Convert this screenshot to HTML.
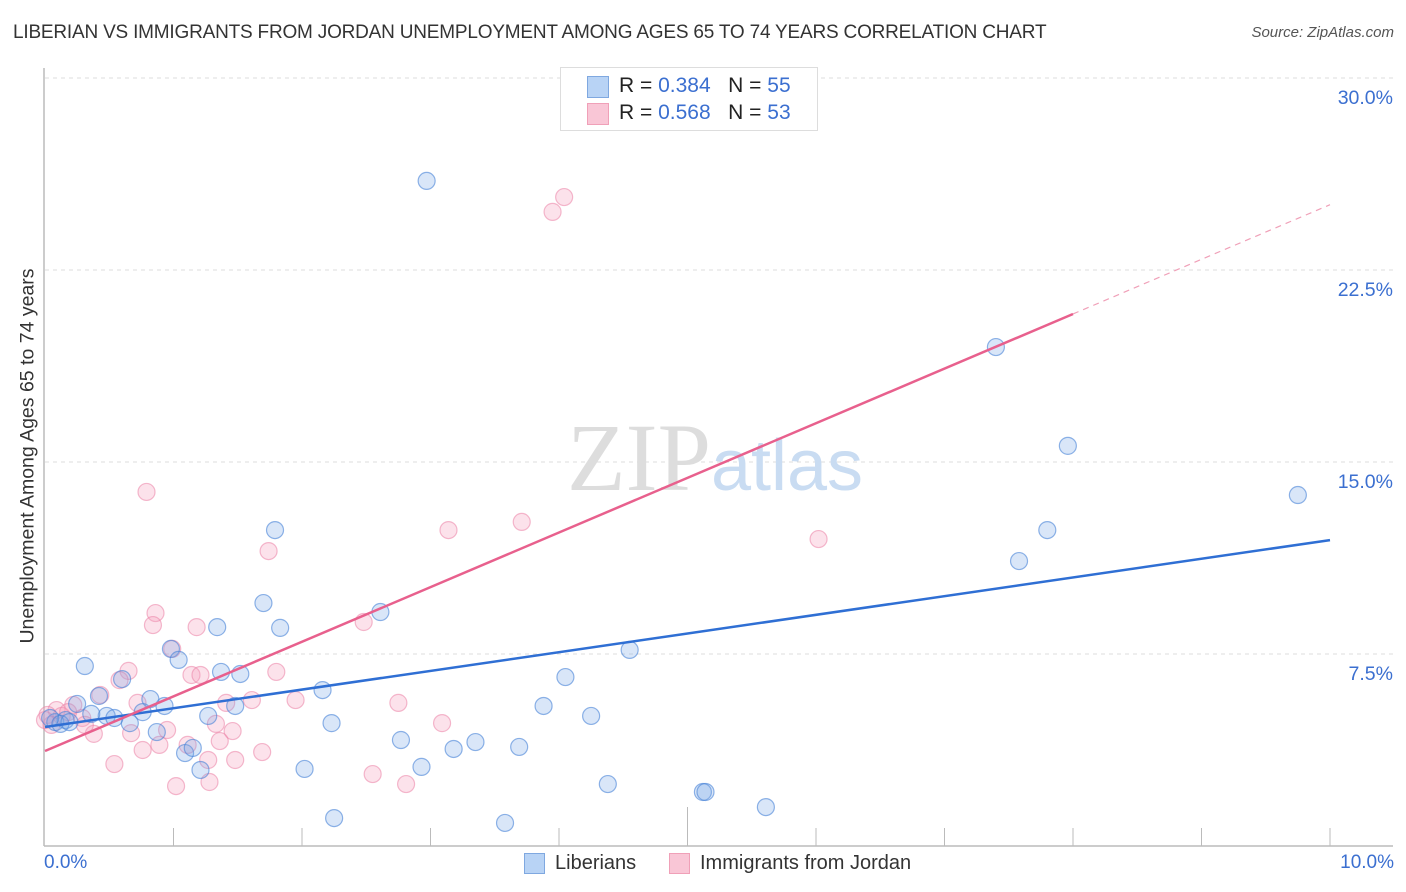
<!DOCTYPE html>
<html><head><meta charset="utf-8"><style>
body{margin:0;background:#fff;font-family:"Liberation Sans",sans-serif;}
#wrap{position:relative;width:1406px;height:892px;overflow:hidden;}
.t{position:absolute;white-space:nowrap;}
</style></head><body>
<div id="wrap">
<div class="t" style="left:13px;top:22px;font-size:19px;color:#333;letter-spacing:-0.2px;">LIBERIAN VS IMMIGRANTS FROM JORDAN UNEMPLOYMENT AMONG AGES 65 TO 74 YEARS CORRELATION CHART</div>
<div class="t" style="right:12px;top:24px;font-size:15px;color:#555;font-style:italic;">Source: ZipAtlas.com</div>
<div class="t" style="left:28px;top:456px;font-size:19.5px;color:#333;transform:translate(-50%,-50%) rotate(-90deg);">Unemployment Among Ages 65 to 74 years</div>
<svg id="svg" width="1406" height="892" style="position:absolute;left:0;top:0"></svg>
<div style="position:absolute;left:560px;top:67px;width:256px;height:62px;border:1px solid #ddd;background:#fff;">
<div style="position:absolute;left:26px;top:8px;width:20px;height:20px;background:#b8d3f5;border:1px solid #7fa8e0;"></div>
<div style="position:absolute;left:26px;top:35px;width:20px;height:20px;background:#f9c6d6;border:1px solid #f0a0b8;"></div>
<div class="t" style="left:58px;top:6px;font-size:21px;color:#222;">R = <span style="color:#3b6fd0">0.384</span>&nbsp;&nbsp;&nbsp;N = <span style="color:#3b6fd0">55</span></div>
<div class="t" style="left:58px;top:33px;font-size:21px;color:#222;">R = <span style="color:#3b6fd0">0.568</span>&nbsp;&nbsp;&nbsp;N = <span style="color:#3b6fd0">53</span></div>
</div>
<div class="t" style="left:44px;top:852px;font-size:19px;color:#3b6fd0;">0.0%</div>
<div class="t" style="right:12px;top:852px;font-size:19px;color:#3b6fd0;">10.0%</div>
<div style="position:absolute;left:524px;top:853px;">
<div style="position:absolute;left:0;top:0;width:19px;height:19px;background:#b8d3f5;border:1px solid #7fa8e0;"></div>
<div class="t" style="left:31px;top:-1px;font-size:20px;color:#333;">Liberians</div></div>
<div style="position:absolute;left:669px;top:853px;">
<div style="position:absolute;left:0;top:0;width:19px;height:19px;background:#f9c6d6;border:1px solid #f0a0b8;"></div>
<div class="t" style="left:31px;top:-1px;font-size:20px;color:#333;">Immigrants from Jordan</div></div>
</div>
<script>
const yTicks=[7.5,15,22.5,30];
const yTickLabels=["7.5%","15.0%","22.5%","30.0%"];
const xTicks=[1,2,3,4,5,6,7,8,9,10];
const blueX=[2.97,7.40,7.96,9.75,7.80,7.58,1.79,1.70,1.34,1.83,2.61,0.31,0.98,1.04,1.37,1.52,0.60,0.42,0.82,0.93,0.25,2.16,4.55,4.05,1.27,1.48,0.48,0.66,0.36,0.76,0.87,3.88,4.25,2.23,2.77,3.18,3.35,3.69,1.09,1.15,1.21,2.02,2.93,4.38,5.12,5.14,5.61,2.25,3.58,0.08,0.16,0.04,0.12,0.19,0.54];
const blueY=[25.98,19.49,15.63,13.71,12.34,11.13,12.34,9.49,8.55,8.52,9.14,7.03,7.70,7.27,6.80,6.72,6.52,5.86,5.74,5.47,5.55,6.09,7.66,6.60,5.08,5.47,5.08,4.80,5.16,5.23,4.45,5.47,5.08,4.80,4.14,3.79,4.06,3.87,3.63,3.83,2.97,3.01,3.09,2.42,2.11,2.11,1.52,1.09,0.90,4.84,4.92,5.00,4.77,4.84,5.00];
const pinkX=[4.04,3.95,0.79,1.74,3.14,3.71,6.02,0.86,0.84,1.18,2.48,0.99,0.65,1.80,1.14,1.21,0.58,0.43,0.72,1.41,1.61,1.95,2.75,0.22,1.33,0.95,1.46,3.09,0.09,0.13,0.29,0.38,0.67,0.76,0.89,1.11,1.36,1.69,1.27,1.48,0.54,1.02,1.28,2.55,2.81,0.02,0.05,0.18,0.31,0.0];
const pinkY=[25.35,24.77,13.83,11.52,12.34,12.66,11.99,9.10,8.63,8.55,8.75,7.70,6.84,6.80,6.68,6.68,6.48,5.90,5.59,5.59,5.70,5.70,5.59,5.51,4.77,4.53,4.49,4.80,5.31,5.08,5.00,4.38,4.41,3.75,3.95,3.95,4.10,3.67,3.36,3.36,3.20,2.34,2.50,2.81,2.42,5.12,4.73,5.23,4.73,4.92];
const blueTrend=[4.65,11.95];
const pinkTrend=[3.71,25.05];
const pinkSolidEnd=8.0;
const X0=45,X1=1330,Y0=846,Y30=78;
const sx=v=>X0+(X1-X0)*v/10;
const sy=v=>Y0-(Y0-Y30)*v/30;
const svg=document.getElementById('svg');
const NS='http://www.w3.org/2000/svg';
function mk(tag,attrs){const e=document.createElementNS(NS,tag);for(const k in attrs)e.setAttribute(k,attrs[k]);svg.appendChild(e);return e;}
yTicks.forEach((t,i)=>{
 const g=mk('line',{x1:45,x2:1393,y1:sy(t),y2:sy(t),stroke:'#ddd','stroke-dasharray':'4,4','stroke-width':1});
 
 
 const tx=mk('text',{x:1393,y:sy(t)+26,'text-anchor':'end','font-size':19.5,fill:'#3b6fd0','font-family':'Liberation Sans, sans-serif'});
 tx.textContent=yTickLabels[i];
 
 
});
const ax=mk('line',{x1:44,x2:44,y1:68,y2:846,stroke:'#bbb','stroke-width':1.5});


const bx=mk('line',{x1:44,x2:1393,y1:846,y2:846,stroke:'#bbb','stroke-width':1.5});


xTicks.forEach(t=>{
 const l=mk('line',{x1:sx(t),x2:sx(t),y1:t===5?807:828,y2:846,stroke:'#bbb','stroke-width':1});
 
 
});
const wm=mk('text',{x:715,y:490,'text-anchor':'middle','font-size':96,fill:'#ddd','font-family':'Liberation Serif, serif'});
wm.innerHTML='ZIP<tspan fill="#c9dcf2" font-family="Liberation Sans, sans-serif" font-size="72">atlas</tspan>';


function pts(xs,ys,fill,stroke,name){
 xs.forEach((x,i)=>{
  const c=mk('circle',{cx:sx(x),cy:sy(ys[i]),r:8.5,fill:fill,stroke:stroke,'stroke-width':1.2});
  
  
 });
}
pts(pinkX,pinkY,'rgba(244,160,188,0.3)','rgba(235,130,165,0.55)','point-jordan');
pts(blueX,blueY,'rgba(120,165,230,0.28)','rgba(70,130,215,0.6)','point-liberians');
const bl=mk('line',{x1:sx(0),y1:sy(blueTrend[0]),x2:sx(10),y2:sy(blueTrend[1]),stroke:'#2f6fd4','stroke-width':2.5});


const pe=pinkTrend[0]+(pinkTrend[1]-pinkTrend[0])*pinkSolidEnd/10;
const pl=mk('line',{x1:sx(0),y1:sy(pinkTrend[0]),x2:sx(pinkSolidEnd),y2:sy(pe),stroke:'#e8608d','stroke-width':2.5});


const pd=mk('line',{x1:sx(pinkSolidEnd),y1:sy(pe),x2:sx(10),y2:sy(pinkTrend[1]),stroke:'#f0a0b8','stroke-width':1.2,'stroke-dasharray':'6,5'});


</script>
</body></html>
